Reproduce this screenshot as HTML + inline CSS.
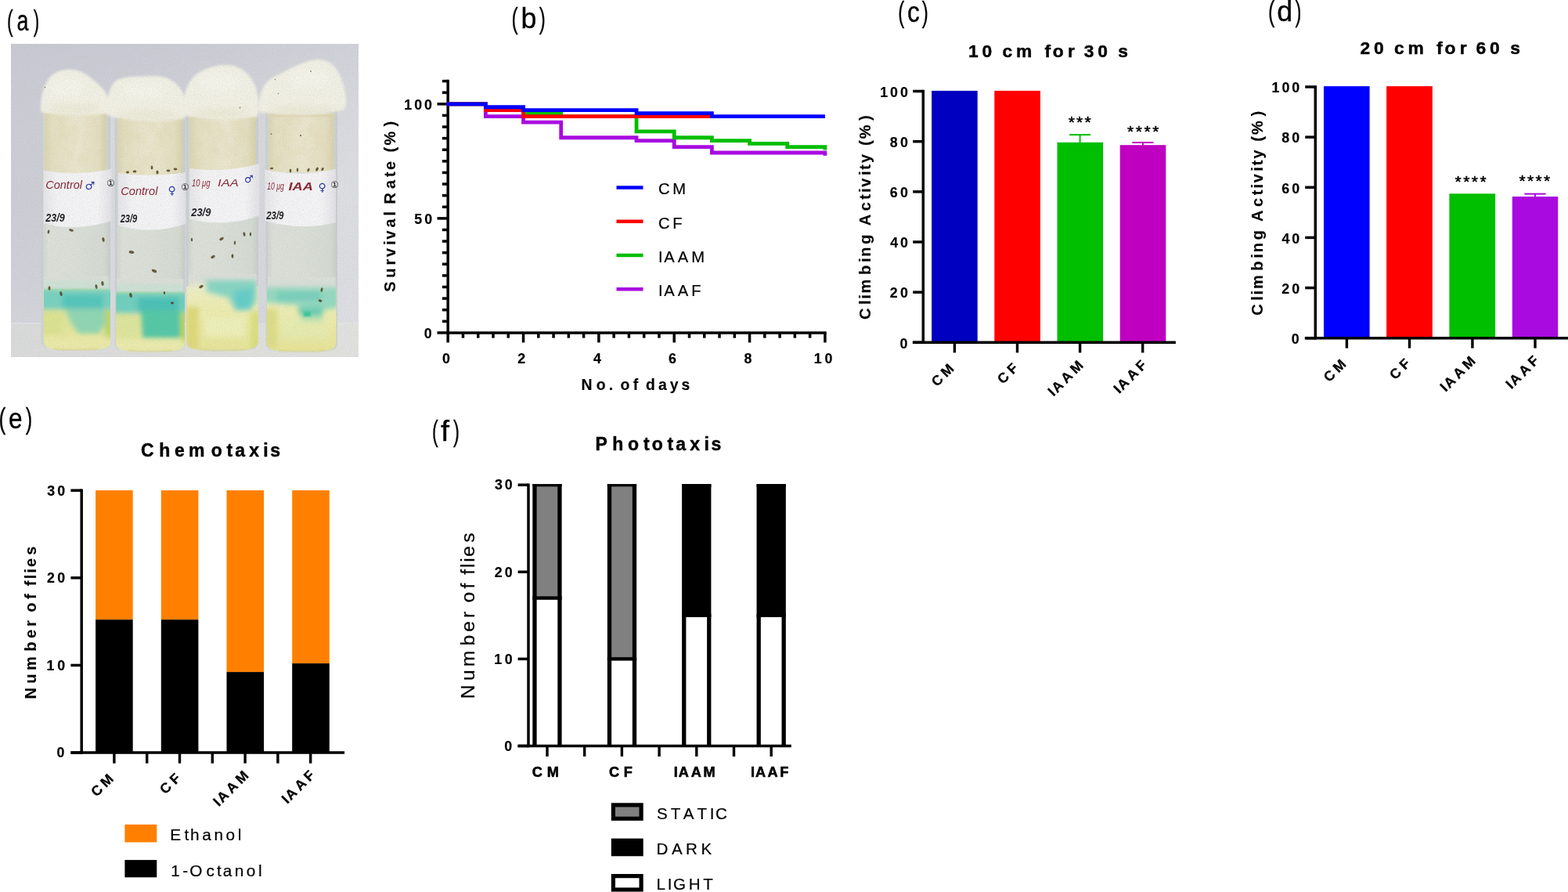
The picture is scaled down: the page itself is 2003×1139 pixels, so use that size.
<!DOCTYPE html>
<html lang="en"><head><meta charset="utf-8"><title>Figure</title>
<style>
html,body{margin:0;padding:0;background:#fff;overflow:hidden}
svg{display:block}
text{font-family:"Liberation Sans",sans-serif;font-kerning:none;white-space:pre}
</style></head><body>
<svg width="2003" height="1139" viewBox="0 0 2003 1139">
<rect width="2003" height="1139" fill="#fff"/>
<defs>
<clipPath id="pc"><rect x="14" y="56" width="444" height="400"/></clipPath>
<linearGradient id="bg" x1="0" y1="0" x2="1" y2="0.25"><stop offset="0" stop-color="#CBCCD5"/><stop offset="0.45" stop-color="#D0D1D9"/><stop offset="1" stop-color="#DEDFE4"/></linearGradient>
<linearGradient id="bgv" x1="0" y1="0" x2="0" y2="1"><stop offset="0" stop-color="#C4C5CF" stop-opacity="0.45"/><stop offset="0.5" stop-color="#D4D5DC" stop-opacity="0"/><stop offset="1" stop-color="#E2E3E6" stop-opacity="0.5"/></linearGradient>
<linearGradient id="tb" x1="0" y1="0" x2="1" y2="0"><stop offset="0" stop-color="#DADBDB"/><stop offset="1" stop-color="#E2E2E0"/></linearGradient>
<linearGradient id="plug" x1="0" y1="0" x2="1" y2="0"><stop offset="0" stop-color="#DAD5B2"/><stop offset="0.12" stop-color="#E5E0C2"/><stop offset="0.55" stop-color="#EBE7CE"/><stop offset="0.88" stop-color="#E4DFC0"/><stop offset="1" stop-color="#D6D0AC"/></linearGradient>
<linearGradient id="glass" x1="0" y1="0" x2="1" y2="0"><stop offset="0" stop-color="#CDD3CD"/><stop offset="0.1" stop-color="#DBE0D9"/><stop offset="0.5" stop-color="#DADFD8"/><stop offset="0.9" stop-color="#D5DBD3"/><stop offset="1" stop-color="#C9D0C8"/></linearGradient>
<linearGradient id="lab" x1="0" y1="0" x2="1" y2="0"><stop offset="0" stop-color="#E6E6EA"/><stop offset="0.2" stop-color="#F4F4F6"/><stop offset="0.8" stop-color="#F5F5F7"/><stop offset="1" stop-color="#E2E2E7"/></linearGradient>
<linearGradient id="yel" x1="0" y1="0" x2="0" y2="1"><stop offset="0" stop-color="#CFE3A4"/><stop offset="0.4" stop-color="#DDE594"/><stop offset="0.8" stop-color="#E9E89E"/><stop offset="1" stop-color="#E4E190"/></linearGradient>
<linearGradient id="yel2" x1="0" y1="0" x2="0" y2="1"><stop offset="0" stop-color="#F0EFC2"/><stop offset="0.5" stop-color="#ECEBA6"/><stop offset="1" stop-color="#E6E394"/></linearGradient>
<filter id="b2" x="-20%" y="-20%" width="140%" height="140%"><feGaussianBlur stdDeviation="1.8"/></filter>
<filter id="b3" x="-30%" y="-30%" width="160%" height="160%"><feGaussianBlur stdDeviation="3"/></filter>
<filter id="b5" x="-30%" y="-30%" width="160%" height="160%"><feGaussianBlur stdDeviation="5"/></filter>
<filter id="b1" x="-20%" y="-20%" width="140%" height="140%"><feGaussianBlur stdDeviation="0.9"/></filter>
<filter id="bh" x="-20%" y="-20%" width="140%" height="140%"><feGaussianBlur stdDeviation="0.45"/></filter>
<filter id="mot" x="0" y="0" width="100%" height="100%"><feTurbulence type="fractalNoise" baseFrequency="0.07 0.05" numOctaves="3" seed="7"/><feColorMatrix type="matrix" values="0 0 0 0 0.74  0 0 0 0 0.68  0 0 0 0 0.42  1.9 0 0 0 -0.78"/></filter>
<filter id="grain" x="0" y="0" width="100%" height="100%"><feTurbulence type="fractalNoise" baseFrequency="0.8" numOctaves="2" seed="11"/><feColorMatrix type="matrix" values="0 0 0 0 0.45  0 0 0 0 0.45  0 0 0 0 0.42  0 1.6 0 0 -0.62"/></filter>
</defs>
<g clip-path="url(#pc)">
<rect x="14" y="56" width="444" height="400" fill="url(#bg)"/>
<rect x="14" y="56" width="444" height="400" fill="url(#bgv)"/>
<rect x="14" y="413" width="444" height="43" fill="url(#tb)"/>
<rect x="14" y="412" width="444" height="1.6" fill="#E8E8EA" opacity="0.7"/>
<path d="M52.5 140.5 V435.0 Q52.5 447.0 68.5 447.0 H124.8 Q140.8 447.0 140.8 435.0 V140.5 Z" fill="url(#glass)"/>
<clipPath id="tc0"><path d="M56.0 352.5 V435.0 Q56.0 446.0 74.0 446.0 H123.5 Q141.5 446.0 141.5 435.0 V352.5 Z"/></clipPath>
<rect x="57.0" y="141.5" width="78.5" height="80.5" fill="url(#plug)"/>
<rect x="59.0" y="143.5" width="74.5" height="3" fill="#CFC493" opacity="0.5" filter="url(#b1)"/>
<rect x="57.0" y="141.5" width="78.5" height="80.5" filter="url(#mot)" opacity="0.55"/>
<path d="M146.8 147.0 V437.0 Q146.8 449.0 162.8 449.0 H220.3 Q236.3 449.0 236.3 437.0 V147.0 Z" fill="url(#glass)"/>
<clipPath id="tc1"><path d="M148.2 356.0 V437.0 Q148.2 448.0 166.2 448.0 H218.0 Q236.0 448.0 236.0 437.0 V356.0 Z"/></clipPath>
<rect x="150.0" y="148.0" width="83.5" height="77.0" fill="url(#plug)"/>
<rect x="152.0" y="150.0" width="79.5" height="3" fill="#CFC493" opacity="0.5" filter="url(#b1)"/>
<rect x="150.0" y="148.0" width="83.5" height="77.0" filter="url(#mot)" opacity="0.55"/>
<path d="M238.2 146.0 V435.5 Q238.2 447.5 254.2 447.5 H314.0 Q330.0 447.5 330.0 435.5 V146.0 Z" fill="url(#glass)"/>
<clipPath id="tc2"><path d="M238.5 350.0 V435.5 Q238.5 446.5 256.5 446.5 H311.5 Q329.5 446.5 329.5 435.5 V350.0 Z"/></clipPath>
<rect x="242.0" y="147.0" width="85.0" height="70.0" fill="url(#plug)"/>
<rect x="244.0" y="149.0" width="81.0" height="3" fill="#CFC493" opacity="0.5" filter="url(#b1)"/>
<rect x="242.0" y="147.0" width="85.0" height="70.0" filter="url(#mot)" opacity="0.55"/>
<path d="M339.5 143.0 V437.0 Q339.5 449.0 355.5 449.0 H415.0 Q431.0 449.0 431.0 437.0 V143.0 Z" fill="url(#glass)"/>
<clipPath id="tc3"><path d="M341.0 354.0 V437.0 Q341.0 448.0 359.0 448.0 H411.5 Q429.5 448.0 429.5 437.0 V354.0 Z"/></clipPath>
<rect x="343.0" y="144.0" width="83.5" height="76.0" fill="url(#plug)"/>
<rect x="345.0" y="146.0" width="79.5" height="3" fill="#CFC493" opacity="0.5" filter="url(#b1)"/>
<rect x="343.0" y="144.0" width="83.5" height="76.0" filter="url(#mot)" opacity="0.55"/>
<g clip-path="url(#tc0)">
<rect x="50" y="340" width="96" height="30" fill="#DADFD8"/>
<rect x="50" y="368" width="96" height="84" fill="url(#yel)"/>
<g filter="url(#b3)"><rect x="48" y="369" width="100" height="26" fill="#74D1C0"/><path d="M82 392 H134 L136 410 L126 426 H100 L90 410 Z" fill="#8CD6B2"/><rect x="80" y="376" width="52" height="18" fill="#50C5BA"/><rect x="134" y="396" width="10" height="40" fill="#B9D66A"/><rect x="50" y="398" width="30" height="30" fill="#DCE38E"/></g>
<rect x="48" y="430" width="100" height="24" fill="#ECEAA8" filter="url(#b3)" opacity="0.85"/>
<rect x="48" y="358" width="100" height="10" fill="#CFE2D5" filter="url(#b2)"/>
</g>
<g clip-path="url(#tc1)">
<rect x="144" y="344" width="96" height="30" fill="#DADFD8"/>
<rect x="144" y="372" width="96" height="84" fill="url(#yel)"/>
<g filter="url(#b3)"><rect x="142" y="373" width="100" height="27" fill="#6CCFBE"/><path d="M180 396 H231 V432 H182 Z" fill="#4FC7A4"/><rect x="176" y="380" width="52" height="16" fill="#45C0B6"/><rect x="231" y="398" width="10" height="44" fill="#BFD84C"/><rect x="146" y="402" width="30" height="30" fill="#DDE69A"/></g>
<rect x="142" y="434" width="100" height="22" fill="#EDECB0" filter="url(#b3)" opacity="0.85"/>
<rect x="142" y="362" width="100" height="10" fill="#CDE1D5" filter="url(#b2)"/>
</g>
<g clip-path="url(#tc2)">
<rect x="236" y="340" width="98" height="30" fill="#DADFD8"/>
<rect x="236" y="366" width="98" height="90" fill="url(#yel2)"/>
<g filter="url(#b3)"><path d="M262 358 H328 V384 L320 396 H300 L292 380 L262 372 Z" fill="#84D5C2"/><path d="M298 372 L323 368 L320 394 L302 396 Z" fill="#5ECDC8"/><rect x="236" y="392" width="18" height="54" fill="#DFD978"/><rect x="320" y="398" width="14" height="50" fill="#DCDF7C"/><rect x="262" y="404" width="50" height="26" fill="#EEF0B8"/><rect x="238" y="362" width="26" height="8" fill="#E9EDCB"/></g>
</g>
<g clip-path="url(#tc3)">
<rect x="336" y="342" width="98" height="30" fill="#DADFD8"/>
<rect x="336" y="370" width="98" height="86" fill="url(#yel2)"/>
<g filter="url(#b3)"><path d="M336 367 H434 V392 L410 397 L380 390 L336 386 Z" fill="#92D9C0"/><path d="M380 392 H412 V411 H386 Z" fill="#6ACEB2"/><rect x="336" y="394" width="18" height="50" fill="#DDDE84"/><rect x="354" y="372" width="56" height="12" fill="#74CFBA"/><rect x="360" y="404" width="60" height="28" fill="#E6EDB2" opacity="0.7"/></g>
<rect x="388" y="398" width="9" height="6" fill="#35C79A" filter="url(#b1)"/>
</g>
<path d="M68.5 445.0 Q96.7 449.5 124.8 445.0" stroke="#DAD678" stroke-width="2" fill="none" opacity="0.7" filter="url(#b1)"/>
<rect x="52.5" y="140.5" width="2.4" height="228.0" fill="#C9CDD3" opacity="0.8"/>
<rect x="138.4" y="140.5" width="2.4" height="228.0" fill="#C9CDD3" opacity="0.8"/>
<rect x="52.5" y="139.7" width="88.3" height="1.6" fill="#B9C0C0" opacity="0.8"/>
<path d="M162.8 447.0 Q191.6 451.5 220.3 447.0" stroke="#DAD678" stroke-width="2" fill="none" opacity="0.7" filter="url(#b1)"/>
<rect x="146.8" y="147.0" width="2.4" height="225.0" fill="#C9CDD3" opacity="0.8"/>
<rect x="233.9" y="147.0" width="2.4" height="225.0" fill="#C9CDD3" opacity="0.8"/>
<rect x="146.8" y="146.2" width="89.5" height="1.6" fill="#B9C0C0" opacity="0.8"/>
<path d="M254.2 445.5 Q284.1 450.0 314.0 445.5" stroke="#DAD678" stroke-width="2" fill="none" opacity="0.7" filter="url(#b1)"/>
<rect x="238.2" y="146.0" width="2.4" height="220.0" fill="#C9CDD3" opacity="0.8"/>
<rect x="327.6" y="146.0" width="2.4" height="220.0" fill="#C9CDD3" opacity="0.8"/>
<rect x="238.2" y="145.2" width="91.8" height="1.6" fill="#B9C0C0" opacity="0.8"/>
<path d="M355.5 447.0 Q385.2 451.5 415.0 447.0" stroke="#DAD678" stroke-width="2" fill="none" opacity="0.7" filter="url(#b1)"/>
<rect x="339.5" y="143.0" width="2.4" height="227.0" fill="#C9CDD3" opacity="0.8"/>
<rect x="428.6" y="143.0" width="2.4" height="227.0" fill="#C9CDD3" opacity="0.8"/>
<rect x="339.5" y="142.2" width="91.5" height="1.6" fill="#B9C0C0" opacity="0.8"/>
<rect x="141" y="141" width="5.8" height="300" fill="#D9DCE0" opacity="0.9"/>
<rect x="330.3" y="143" width="9" height="270" fill="#D7D8DE"/>
<g filter="url(#b2)">
<path d="M52 143 C51 124 56 106 66 96 C76 88 92 87 102 91 C114 96 122 104 130 112 C136 118 140 126 141 144 C120 149 72 149 52 143 Z" fill="#F2F1E5"/>
<path d="M137 147 C136 130 138 112 148 103 C162 96 182 98 196 97 C212 96 226 104 232 116 C238 128 238 140 236 151 C210 157 160 156 137 147 Z" fill="#F2F1E5"/>
<path d="M235 147 C232 126 238 104 252 94 C266 85 284 81 298 84 C312 87 324 100 328 116 C331 130 331 140 329 149 C300 155 260 154 235 147 Z" fill="#F2F1E5"/>
<path d="M331 143 C330 124 334 106 350 98 C368 90 386 78 404 76 C418 75 428 82 434 96 C440 110 444 128 441 138 C432 147 370 149 331 143 Z" fill="#F2F1E5"/>
</g>
<g filter="url(#b5)" opacity="0.6">
<ellipse cx="86" cy="112" rx="22" ry="12" fill="#F8F8F0"/>
<ellipse cx="185" cy="116" rx="30" ry="10" fill="#F8F8F0"/>
<ellipse cx="280" cy="106" rx="26" ry="12" fill="#F8F8F0"/>
<ellipse cx="394" cy="100" rx="28" ry="12" fill="#F8F8F0"/>
<ellipse cx="96" cy="139" rx="34" ry="4.5" fill="#E4E0C2"/>
<ellipse cx="188" cy="147" rx="40" ry="4.5" fill="#E4E0C2"/>
<ellipse cx="282" cy="145" rx="38" ry="4.5" fill="#E4E0C2"/>
<ellipse cx="386" cy="141" rx="44" ry="4.5" fill="#E4E0C2"/>
</g>
<path d="M55.6 217.7 Q99.1 225.6 142.6 215.5 V282.0 Q99.1 295.9 55.6 285.4 Z" fill="url(#lab)"/>
<path d="M150.9 221.0 Q194.1 227.1 237.2 220.0 V286.0 Q194.1 300.4 150.9 288.0 Z" fill="url(#lab)"/>
<path d="M242.1 215.0 Q286.7 221.2 331.3 208.9 V275.4 Q286.7 291.0 242.1 279.8 Z" fill="url(#lab)"/>
<path d="M338.5 216.6 Q383.7 227.1 428.9 215.5 V284.3 Q383.7 295.2 338.5 282.0 Z" fill="url(#lab)"/>
<g fill="#4A3A16" filter="url(#bh)" opacity="0.85">
<ellipse cx="62" cy="296" rx="1.3" ry="2.6" transform="rotate(10 62 296)"/>
<ellipse cx="91" cy="294" rx="3" ry="1.6" transform="rotate(15 91 294)"/>
<ellipse cx="132" cy="306" rx="1.6" ry="3" transform="rotate(-10 132 306)"/>
<ellipse cx="63" cy="368" rx="1.5" ry="2.8" transform="rotate(0 63 368)"/>
<ellipse cx="78" cy="375" rx="1.6" ry="3" transform="rotate(-15 78 375)"/>
<ellipse cx="123" cy="366" rx="1.5" ry="3" transform="rotate(-10 123 366)"/>
<ellipse cx="131" cy="362" rx="1.6" ry="3" transform="rotate(-5 131 362)"/>
<ellipse cx="168" cy="322" rx="3.4" ry="1.8" transform="rotate(10 168 322)"/>
<ellipse cx="197" cy="346" rx="3.4" ry="1.8" transform="rotate(25 197 346)"/>
<ellipse cx="167" cy="377" rx="1.8" ry="3" transform="rotate(-10 167 377)"/>
<ellipse cx="210" cy="374" rx="1.2" ry="2" transform="rotate(0 210 374)"/>
<ellipse cx="220" cy="387" rx="2" ry="1.4" transform="rotate(0 220 387)"/>
<ellipse cx="245" cy="306" rx="1.2" ry="2.2" transform="rotate(0 245 306)"/>
<ellipse cx="283" cy="305" rx="3" ry="1.6" transform="rotate(-30 283 305)"/>
<ellipse cx="300" cy="310" rx="1.2" ry="2.6" transform="rotate(0 300 310)"/>
<ellipse cx="312" cy="299" rx="1.5" ry="2.8" transform="rotate(-10 312 299)"/>
<ellipse cx="320" cy="299" rx="1.2" ry="2.6" transform="rotate(0 320 299)"/>
<ellipse cx="272" cy="328" rx="3" ry="1.6" transform="rotate(-30 272 328)"/>
<ellipse cx="297" cy="327" rx="1.4" ry="2.8" transform="rotate(0 297 327)"/>
<ellipse cx="257" cy="366" rx="3" ry="1.6" transform="rotate(-30 257 366)"/>
<ellipse cx="411" cy="370" rx="1.4" ry="2.8" transform="rotate(10 411 370)"/>
<ellipse cx="409" cy="384" rx="2.4" ry="1.6" transform="rotate(20 409 384)"/>
<ellipse cx="163" cy="220" rx="2" ry="1.4" transform="rotate(0 163 220)"/>
<ellipse cx="172" cy="219" rx="2.4" ry="1.4" transform="rotate(0 172 219)"/>
<ellipse cx="194" cy="214" rx="1.4" ry="2.4" transform="rotate(0 194 214)"/>
<ellipse cx="201" cy="220" rx="1.6" ry="2.6" transform="rotate(0 201 220)"/>
<ellipse cx="215" cy="218" rx="2.4" ry="1.4" transform="rotate(0 215 218)"/>
<ellipse cx="224" cy="216" rx="2.4" ry="1.4" transform="rotate(0 224 216)"/>
<ellipse cx="347" cy="215" rx="2" ry="1.2" transform="rotate(0 347 215)"/>
<ellipse cx="371" cy="218" rx="1.4" ry="2.2" transform="rotate(0 371 218)"/>
<ellipse cx="380" cy="217" rx="1.2" ry="2.4" transform="rotate(0 380 217)"/>
<ellipse cx="394" cy="217" rx="1.4" ry="2.4" transform="rotate(30 394 217)"/>
<ellipse cx="405" cy="216" rx="1.6" ry="2.6" transform="rotate(30 405 216)"/>
<ellipse cx="412" cy="216" rx="1.4" ry="2.2" transform="rotate(30 412 216)"/>
</g>
<g fill="#6B6448" opacity="0.8"><circle cx="57.5" cy="111.5" r="0.8"/><circle cx="306.5" cy="137.5" r="0.9"/><circle cx="351.5" cy="101.5" r="0.8"/><circle cx="397" cy="91" r="0.9"/><circle cx="355.5" cy="119.5" r="0.8"/><circle cx="384" cy="173" r="1.2"/><circle cx="346.5" cy="171" r="1"/></g>
<text x="58.3" y="241.0" font-size="15.0" fill="#84202E" font-style="italic" font-weight="400" style="font-family:'Liberation Sans',sans-serif" textLength="46.7" lengthAdjust="spacingAndGlyphs">Control</text>
<text x="108.5" y="242.0" font-size="14.0" fill="#1C2C9C" font-style="normal" font-weight="400" style="font-family:'DejaVu Sans',sans-serif">♂</text>
<text x="136.0" y="238.0" font-size="12.0" fill="#15151A" font-style="normal" font-weight="400" style="font-family:'DejaVu Sans',sans-serif">①</text>
<text x="154.2" y="249.0" font-size="15.0" fill="#84202E" font-style="italic" font-weight="400" style="font-family:'Liberation Sans',sans-serif" textLength="47.2" lengthAdjust="spacingAndGlyphs">Control</text>
<text x="214.5" y="248.0" font-size="14.0" fill="#1C2C9C" font-style="normal" font-weight="400" style="font-family:'DejaVu Sans',sans-serif">♀</text>
<text x="231.0" y="243.0" font-size="12.0" fill="#15151A" font-style="normal" font-weight="400" style="font-family:'DejaVu Sans',sans-serif">①</text>
<text x="244.9" y="238.0" font-size="13.0" fill="#84202E" font-style="italic" font-weight="400" style="font-family:'Liberation Sans',sans-serif" textLength="23.5" lengthAdjust="spacingAndGlyphs">10 μg</text>
<text x="278.1" y="237.5" font-size="12.0" fill="#84202E" font-style="italic" font-weight="400" style="font-family:'Liberation Sans',sans-serif" textLength="26.6" lengthAdjust="spacingAndGlyphs">IAA</text>
<text x="312.0" y="233.0" font-size="13.0" fill="#1C2C9C" font-style="normal" font-weight="400" style="font-family:'DejaVu Sans',sans-serif">♂</text>
<text x="341.3" y="242.0" font-size="13.0" fill="#84202E" font-style="italic" font-weight="400" style="font-family:'Liberation Sans',sans-serif" textLength="21.5" lengthAdjust="spacingAndGlyphs">10 μg</text>
<text x="368.5" y="243.0" font-size="14.0" fill="#84202E" font-style="italic" font-weight="700" style="font-family:'Liberation Sans',sans-serif" textLength="31.5" lengthAdjust="spacingAndGlyphs">IAA</text>
<text x="406.5" y="244.0" font-size="14.0" fill="#1C2C9C" font-style="normal" font-weight="400" style="font-family:'DejaVu Sans',sans-serif">♀</text>
<text x="422.0" y="240.0" font-size="12.0" fill="#15151A" font-style="normal" font-weight="400" style="font-family:'DejaVu Sans',sans-serif">①</text>
<text x="58.3" y="282.5" font-size="14.0" fill="#15151A" font-style="italic" font-weight="700" style="font-family:'Liberation Sans',sans-serif" textLength="24.4" lengthAdjust="spacingAndGlyphs">23/9</text>
<text x="153.7" y="284.0" font-size="14.0" fill="#15151A" font-style="italic" font-weight="700" style="font-family:'Liberation Sans',sans-serif" textLength="21.6" lengthAdjust="spacingAndGlyphs">23/9</text>
<text x="244.3" y="276.0" font-size="14.0" fill="#15151A" font-style="italic" font-weight="700" style="font-family:'Liberation Sans',sans-serif" textLength="25.0" lengthAdjust="spacingAndGlyphs">23/9</text>
<text x="340.2" y="279.5" font-size="14.0" fill="#15151A" font-style="italic" font-weight="700" style="font-family:'Liberation Sans',sans-serif" textLength="22.2" lengthAdjust="spacingAndGlyphs">23/9</text>
<rect x="14" y="56" width="444" height="400" filter="url(#grain)" opacity="0.35"/>
</g>
<text y="38.70" font-size="37.00" font-weight="400" fill="#000" stroke="#000" stroke-width="0.35"><tspan x="8.97" textLength="7.66" lengthAdjust="spacingAndGlyphs">(</tspan><tspan x="21.46" textLength="14.94" lengthAdjust="spacingAndGlyphs">a</tspan><tspan x="42.67" textLength="7.41" lengthAdjust="spacingAndGlyphs">)</tspan></text>
<text y="36.40" font-size="37.00" font-weight="400" fill="#000" stroke="#000" stroke-width="0.35"><tspan x="653.38" textLength="8.16" lengthAdjust="spacingAndGlyphs">(</tspan><tspan x="665.49" textLength="19.91" lengthAdjust="spacingAndGlyphs">b</tspan><tspan x="688.86" textLength="8.04" lengthAdjust="spacingAndGlyphs">)</tspan></text>
<text y="28.00" font-size="37.00" font-weight="400" fill="#000" stroke="#000" stroke-width="0.35"><tspan x="1147.30" textLength="8.04" lengthAdjust="spacingAndGlyphs">(</tspan><tspan x="1158.96" textLength="15.77" lengthAdjust="spacingAndGlyphs">c</tspan><tspan x="1177.66" textLength="8.04" lengthAdjust="spacingAndGlyphs">)</tspan></text>
<text y="27.30" font-size="37.00" font-weight="400" fill="#000" stroke="#000" stroke-width="0.35"><tspan x="1620.03" textLength="8.42" lengthAdjust="spacingAndGlyphs">(</tspan><tspan x="1631.30" textLength="19.91" lengthAdjust="spacingAndGlyphs">d</tspan><tspan x="1654.56" textLength="7.91" lengthAdjust="spacingAndGlyphs">)</tspan></text>
<text y="546.80" font-size="37.00" font-weight="400" fill="#000" stroke="#000" stroke-width="0.35"><tspan x="-1.44" textLength="8.79" lengthAdjust="spacingAndGlyphs">(</tspan><tspan x="10.96" textLength="17.54" lengthAdjust="spacingAndGlyphs">e</tspan><tspan x="32.75" textLength="8.42" lengthAdjust="spacingAndGlyphs">)</tspan></text>
<text y="562.90" font-size="37.00" font-weight="400" fill="#000" stroke="#000" stroke-width="0.35"><tspan x="552.07" textLength="7.66" lengthAdjust="spacingAndGlyphs">(</tspan><tspan x="562.94" textLength="11.00" lengthAdjust="spacingAndGlyphs">f</tspan><tspan x="578.96" textLength="7.91" lengthAdjust="spacingAndGlyphs">)</tspan></text>
<line x1="572.20" y1="101.84" x2="572.20" y2="426.65" stroke="#000" stroke-width="3.50"/>
<line x1="570.45" y1="424.90" x2="1055.65" y2="424.90" stroke="#000" stroke-width="3.50"/>
<line x1="558.50" y1="424.90" x2="572.20" y2="424.90" stroke="#000" stroke-width="3.50"/>
<line x1="564.90" y1="410.29" x2="572.20" y2="410.29" stroke="#000" stroke-width="3.50"/>
<line x1="564.90" y1="395.69" x2="572.20" y2="395.69" stroke="#000" stroke-width="3.50"/>
<line x1="564.90" y1="381.08" x2="572.20" y2="381.08" stroke="#000" stroke-width="3.50"/>
<line x1="564.90" y1="366.48" x2="572.20" y2="366.48" stroke="#000" stroke-width="3.50"/>
<line x1="564.90" y1="351.88" x2="572.20" y2="351.88" stroke="#000" stroke-width="3.50"/>
<line x1="564.90" y1="337.27" x2="572.20" y2="337.27" stroke="#000" stroke-width="3.50"/>
<line x1="564.90" y1="322.66" x2="572.20" y2="322.66" stroke="#000" stroke-width="3.50"/>
<line x1="564.90" y1="308.06" x2="572.20" y2="308.06" stroke="#000" stroke-width="3.50"/>
<line x1="564.90" y1="293.45" x2="572.20" y2="293.45" stroke="#000" stroke-width="3.50"/>
<line x1="558.50" y1="278.85" x2="572.20" y2="278.85" stroke="#000" stroke-width="3.50"/>
<line x1="564.90" y1="264.25" x2="572.20" y2="264.25" stroke="#000" stroke-width="3.50"/>
<line x1="564.90" y1="249.64" x2="572.20" y2="249.64" stroke="#000" stroke-width="3.50"/>
<line x1="564.90" y1="235.03" x2="572.20" y2="235.03" stroke="#000" stroke-width="3.50"/>
<line x1="564.90" y1="220.43" x2="572.20" y2="220.43" stroke="#000" stroke-width="3.50"/>
<line x1="564.90" y1="205.82" x2="572.20" y2="205.82" stroke="#000" stroke-width="3.50"/>
<line x1="564.90" y1="191.22" x2="572.20" y2="191.22" stroke="#000" stroke-width="3.50"/>
<line x1="564.90" y1="176.61" x2="572.20" y2="176.61" stroke="#000" stroke-width="3.50"/>
<line x1="564.90" y1="162.01" x2="572.20" y2="162.01" stroke="#000" stroke-width="3.50"/>
<line x1="564.90" y1="147.40" x2="572.20" y2="147.40" stroke="#000" stroke-width="3.50"/>
<line x1="558.50" y1="132.80" x2="572.20" y2="132.80" stroke="#000" stroke-width="3.50"/>
<line x1="564.90" y1="118.19" x2="572.20" y2="118.19" stroke="#000" stroke-width="3.50"/>
<line x1="564.90" y1="103.59" x2="572.20" y2="103.59" stroke="#000" stroke-width="3.50"/>
<line x1="572.20" y1="424.90" x2="572.20" y2="437.40" stroke="#000" stroke-width="3.50"/>
<line x1="591.47" y1="424.90" x2="591.47" y2="431.60" stroke="#000" stroke-width="3.50"/>
<line x1="610.74" y1="424.90" x2="610.74" y2="431.60" stroke="#000" stroke-width="3.50"/>
<line x1="630.00" y1="424.90" x2="630.00" y2="431.60" stroke="#000" stroke-width="3.50"/>
<line x1="649.27" y1="424.90" x2="649.27" y2="431.60" stroke="#000" stroke-width="3.50"/>
<line x1="668.54" y1="424.90" x2="668.54" y2="437.40" stroke="#000" stroke-width="3.50"/>
<line x1="687.81" y1="424.90" x2="687.81" y2="431.60" stroke="#000" stroke-width="3.50"/>
<line x1="707.08" y1="424.90" x2="707.08" y2="431.60" stroke="#000" stroke-width="3.50"/>
<line x1="726.34" y1="424.90" x2="726.34" y2="431.60" stroke="#000" stroke-width="3.50"/>
<line x1="745.61" y1="424.90" x2="745.61" y2="431.60" stroke="#000" stroke-width="3.50"/>
<line x1="764.88" y1="424.90" x2="764.88" y2="437.40" stroke="#000" stroke-width="3.50"/>
<line x1="784.15" y1="424.90" x2="784.15" y2="431.60" stroke="#000" stroke-width="3.50"/>
<line x1="803.42" y1="424.90" x2="803.42" y2="431.60" stroke="#000" stroke-width="3.50"/>
<line x1="822.68" y1="424.90" x2="822.68" y2="431.60" stroke="#000" stroke-width="3.50"/>
<line x1="841.95" y1="424.90" x2="841.95" y2="431.60" stroke="#000" stroke-width="3.50"/>
<line x1="861.22" y1="424.90" x2="861.22" y2="437.40" stroke="#000" stroke-width="3.50"/>
<line x1="880.49" y1="424.90" x2="880.49" y2="431.60" stroke="#000" stroke-width="3.50"/>
<line x1="899.76" y1="424.90" x2="899.76" y2="431.60" stroke="#000" stroke-width="3.50"/>
<line x1="919.02" y1="424.90" x2="919.02" y2="431.60" stroke="#000" stroke-width="3.50"/>
<line x1="938.29" y1="424.90" x2="938.29" y2="431.60" stroke="#000" stroke-width="3.50"/>
<line x1="957.56" y1="424.90" x2="957.56" y2="437.40" stroke="#000" stroke-width="3.50"/>
<line x1="976.83" y1="424.90" x2="976.83" y2="431.60" stroke="#000" stroke-width="3.50"/>
<line x1="996.10" y1="424.90" x2="996.10" y2="431.60" stroke="#000" stroke-width="3.50"/>
<line x1="1015.36" y1="424.90" x2="1015.36" y2="431.60" stroke="#000" stroke-width="3.50"/>
<line x1="1034.63" y1="424.90" x2="1034.63" y2="431.60" stroke="#000" stroke-width="3.50"/>
<line x1="1053.90" y1="424.90" x2="1053.90" y2="437.40" stroke="#000" stroke-width="3.50"/>
<path d="M570.40 132.80 H620.37 V148.57 H668.54 V156.17 H716.71 V175.74 H813.05 V179.54 H861.22 V187.71 H909.39 V195.02 H1053.90 H1053.90 V198.81" fill="none" stroke="#A80AE0" stroke-width="4.80" stroke-linejoin="miter"/>
<path d="M570.40 132.80 H620.37 V140.69 H668.54 V144.78 H716.71 V148.57 H813.05 V167.85 H861.22 V175.74 H909.39 V179.54 H957.56 V183.33 H1005.73 V187.71 H1053.90 H1053.90 V191.51" fill="none" stroke="#00BE00" stroke-width="4.80" stroke-linejoin="miter"/>
<path d="M570.40 132.80 H620.37 V140.69 H668.54 V148.57 H909.39" fill="none" stroke="#FF0000" stroke-width="4.80" stroke-linejoin="miter"/>
<path d="M570.40 132.80 H620.37 V136.74 H668.54 V140.69 H813.05 V144.63 H909.39 V148.57 H1053.90" fill="none" stroke="#0000FF" stroke-width="4.80" stroke-linejoin="miter"/>
<text x="516.28 529.15 542.03" y="140.10" font-size="17.80" font-weight="700" fill="#000" stroke="#000" stroke-width="0.20" stroke-linejoin="round">100</text>
<text x="529.15 542.23" y="286.15" font-size="17.80" font-weight="700" fill="#000" stroke="#000" stroke-width="0.20" stroke-linejoin="round">50</text>
<text x="541.70" y="432.20" font-size="17.80" font-weight="700" fill="#000" stroke="#000" stroke-width="0.20" stroke-linejoin="round">0</text>
<text x="564.95" y="464.30" font-size="17.80" font-weight="700" fill="#000" stroke="#000" stroke-width="0.20" stroke-linejoin="round">0</text>
<text x="661.37" y="464.30" font-size="17.80" font-weight="700" fill="#000" stroke="#000" stroke-width="0.20" stroke-linejoin="round">2</text>
<text x="758.06" y="464.30" font-size="17.80" font-weight="700" fill="#000" stroke="#000" stroke-width="0.20" stroke-linejoin="round">4</text>
<text x="854.02" y="464.30" font-size="17.80" font-weight="700" fill="#000" stroke="#000" stroke-width="0.20" stroke-linejoin="round">6</text>
<text x="950.45" y="464.30" font-size="17.80" font-weight="700" fill="#000" stroke="#000" stroke-width="0.20" stroke-linejoin="round">8</text>
<text x="1039.73 1053.38" y="464.30" font-size="17.80" font-weight="700" fill="#000" stroke="#000" stroke-width="0.20" stroke-linejoin="round">10</text>
<text x="742.58 761.69 777.87 785.22 792.57 808.75 817.56 824.92 841.09 855.81 870.53" y="498.00" font-size="19.40" font-weight="700" fill="#000" stroke="#000" stroke-width="0.15" stroke-linejoin="round">No. of days</text>
<text transform="translate(504.70 372.30) rotate(-90)" x="-0.53 17.46 33.93 44.42 59.42 66.91 81.91 96.91 104.40 111.89 131.36 146.36 155.34 170.34 177.83 186.81 210.79" y="0" font-size="20.00" font-weight="700" fill="#000" stroke="#000" stroke-width="0.10" stroke-linejoin="round">Survival Rate (%)</text>
<line x1="787.50" y1="239.50" x2="821.50" y2="239.50" stroke="#0000FF" stroke-width="4.50"/>
<line x1="787.50" y1="282.70" x2="821.50" y2="282.70" stroke="#FF0000" stroke-width="4.50"/>
<line x1="787.50" y1="326.00" x2="821.50" y2="326.00" stroke="#00BE00" stroke-width="4.50"/>
<line x1="787.50" y1="369.30" x2="821.50" y2="369.30" stroke="#A80AE0" stroke-width="4.50"/>
<text x="840.97 859.33" y="248.30" font-size="20.20" font-weight="400" fill="#000" stroke="#000" stroke-width="0.20" stroke-linejoin="round">CM</text>
<text x="840.97 859.17" y="291.50" font-size="20.20" font-weight="400" fill="#000" stroke="#000" stroke-width="0.20" stroke-linejoin="round">CF</text>
<text x="840.94 848.24 865.79 883.33" y="334.80" font-size="20.20" font-weight="400" fill="#000" stroke="#000" stroke-width="0.20" stroke-linejoin="round">IAAM</text>
<text x="840.94 848.25 865.81 883.37" y="378.10" font-size="20.20" font-weight="400" fill="#000" stroke="#000" stroke-width="0.20" stroke-linejoin="round">IAAF</text>
<rect x="1190.10" y="115.90" width="58.60" height="321.40" fill="#0000C0"/>
<rect x="1270.30" y="115.90" width="58.60" height="321.40" fill="#FF0000"/>
<rect x="1350.50" y="181.80" width="58.60" height="255.50" fill="#00BE00"/>
<rect x="1430.70" y="185.20" width="58.60" height="252.10" fill="#C000C0"/>
<line x1="1379.60" y1="172.10" x2="1379.60" y2="182.80" stroke="#00BE00" stroke-width="1.90"/>
<line x1="1366.20" y1="172.10" x2="1393.00" y2="172.10" stroke="#00BE00" stroke-width="2.00"/>
<line x1="1459.90" y1="182.00" x2="1459.90" y2="186.20" stroke="#C000C0" stroke-width="1.90"/>
<line x1="1446.40" y1="182.00" x2="1473.40" y2="182.00" stroke="#C000C0" stroke-width="2.00"/>
<line x1="1179.30" y1="114.75" x2="1179.30" y2="439.05" stroke="#000" stroke-width="3.50"/>
<line x1="1165.80" y1="437.30" x2="1501.90" y2="437.30" stroke="#000" stroke-width="3.50"/>
<line x1="1166.20" y1="437.30" x2="1179.30" y2="437.30" stroke="#000" stroke-width="3.50"/>
<text x="1149.40" y="444.60" font-size="17.80" font-weight="700" fill="#000" stroke="#000" stroke-width="0.20" stroke-linejoin="round">0</text>
<line x1="1166.20" y1="373.14" x2="1179.30" y2="373.14" stroke="#000" stroke-width="3.50"/>
<text x="1136.78 1149.93" y="380.44" font-size="17.80" font-weight="700" fill="#000" stroke="#000" stroke-width="0.20" stroke-linejoin="round">20</text>
<line x1="1166.20" y1="308.98" x2="1179.30" y2="308.98" stroke="#000" stroke-width="3.50"/>
<text x="1137.13 1149.93" y="316.28" font-size="17.80" font-weight="700" fill="#000" stroke="#000" stroke-width="0.20" stroke-linejoin="round">40</text>
<line x1="1166.20" y1="244.82" x2="1179.30" y2="244.82" stroke="#000" stroke-width="3.50"/>
<text x="1136.75 1149.93" y="252.12" font-size="17.80" font-weight="700" fill="#000" stroke="#000" stroke-width="0.20" stroke-linejoin="round">60</text>
<line x1="1166.20" y1="180.66" x2="1179.30" y2="180.66" stroke="#000" stroke-width="3.50"/>
<text x="1136.84 1149.93" y="187.96" font-size="17.80" font-weight="700" fill="#000" stroke="#000" stroke-width="0.20" stroke-linejoin="round">80</text>
<line x1="1166.20" y1="116.50" x2="1179.30" y2="116.50" stroke="#000" stroke-width="3.50"/>
<text x="1124.18 1137.05 1149.93" y="123.80" font-size="17.80" font-weight="700" fill="#000" stroke="#000" stroke-width="0.20" stroke-linejoin="round">100</text>
<line x1="1219.40" y1="437.30" x2="1219.40" y2="450.40" stroke="#000" stroke-width="3.40"/>
<line x1="1299.50" y1="437.30" x2="1299.50" y2="450.40" stroke="#000" stroke-width="3.40"/>
<line x1="1379.60" y1="437.30" x2="1379.60" y2="450.40" stroke="#000" stroke-width="3.40"/>
<line x1="1459.70" y1="437.30" x2="1459.70" y2="450.40" stroke="#000" stroke-width="3.40"/>
<text x="1237.09 1254.48 1271.86 1280.55 1297.93 1325.73 1334.41 1344.83 1363.92 1376.09 1384.77 1402.16 1419.54 1428.23" y="73.20" font-size="22.80" font-weight="700" fill="#000" stroke="#000" stroke-width="0.45" stroke-linejoin="round">10 cm for 30 s</text>
<text transform="translate(1111.50 407.30) rotate(-90)" x="-0.77 18.22 25.52 32.82 56.20 72.26 79.56 95.62 111.68 118.98 137.97 152.59 161.35 168.65 183.27 190.58 199.33 213.95 221.26 230.01 253.39" y="0" font-size="20.00" font-weight="700" fill="#000" stroke="#000" stroke-width="0.10" stroke-linejoin="round">Climbing Activity (%)</text>
<text x="1364.81 1375.11 1385.41" y="163.00" font-size="21.00" font-weight="400" fill="#000" stroke="#000" stroke-width="0.50" stroke-linejoin="round">***</text>
<text x="1439.91 1450.71 1461.51 1472.31" y="174.70" font-size="21.00" font-weight="400" fill="#000" stroke="#000" stroke-width="0.50" stroke-linejoin="round">****</text>
<text transform="translate(1218.60 472.80) rotate(-45)" x="-30.73 -13.64" y="0" font-size="17.80" font-weight="700" fill="#000" stroke="#000" stroke-width="0.30">CM</text>
<text transform="translate(1301.10 471.50) rotate(-45)" x="-28.09 -10.22" y="0" font-size="17.80" font-weight="700" fill="#000" stroke="#000" stroke-width="0.30">CF</text>
<text transform="translate(1383.90 468.70) rotate(-45)" x="-53.79 -47.32 -30.48 -13.64" y="0" font-size="17.80" font-weight="700" fill="#000" stroke="#000" stroke-width="0.30">IAAM</text>
<text transform="translate(1465.30 467.70) rotate(-45)" x="-50.38 -43.90 -27.06 -10.22" y="0" font-size="17.80" font-weight="700" fill="#000" stroke="#000" stroke-width="0.30">IAAF</text>
<rect x="1691.00" y="110.10" width="58.60" height="321.60" fill="#0000FF"/>
<rect x="1771.10" y="110.10" width="58.70" height="321.60" fill="#FF0000"/>
<rect x="1851.40" y="247.30" width="58.70" height="184.40" fill="#00BE00"/>
<rect x="1931.80" y="251.00" width="58.40" height="180.70" fill="#A80AE0"/>
<line x1="1961.00" y1="247.60" x2="1961.00" y2="252.00" stroke="#A80AE0" stroke-width="1.90"/>
<line x1="1947.40" y1="247.60" x2="1974.60" y2="247.60" stroke="#A80AE0" stroke-width="2.00"/>
<line x1="1680.30" y1="109.20" x2="1680.30" y2="433.45" stroke="#000" stroke-width="3.50"/>
<line x1="1666.80" y1="431.70" x2="2003.00" y2="431.70" stroke="#000" stroke-width="3.50"/>
<line x1="1667.20" y1="431.70" x2="1680.30" y2="431.70" stroke="#000" stroke-width="3.50"/>
<text x="1649.80" y="439.00" font-size="17.80" font-weight="700" fill="#000" stroke="#000" stroke-width="0.20" stroke-linejoin="round">0</text>
<line x1="1667.20" y1="367.55" x2="1680.30" y2="367.55" stroke="#000" stroke-width="3.50"/>
<text x="1637.18 1650.33" y="374.85" font-size="17.80" font-weight="700" fill="#000" stroke="#000" stroke-width="0.20" stroke-linejoin="round">20</text>
<line x1="1667.20" y1="303.40" x2="1680.30" y2="303.40" stroke="#000" stroke-width="3.50"/>
<text x="1637.53 1650.33" y="310.70" font-size="17.80" font-weight="700" fill="#000" stroke="#000" stroke-width="0.20" stroke-linejoin="round">40</text>
<line x1="1667.20" y1="239.25" x2="1680.30" y2="239.25" stroke="#000" stroke-width="3.50"/>
<text x="1637.15 1650.33" y="246.55" font-size="17.80" font-weight="700" fill="#000" stroke="#000" stroke-width="0.20" stroke-linejoin="round">60</text>
<line x1="1667.20" y1="175.10" x2="1680.30" y2="175.10" stroke="#000" stroke-width="3.50"/>
<text x="1637.24 1650.33" y="182.40" font-size="17.80" font-weight="700" fill="#000" stroke="#000" stroke-width="0.20" stroke-linejoin="round">80</text>
<line x1="1667.20" y1="110.95" x2="1680.30" y2="110.95" stroke="#000" stroke-width="3.50"/>
<text x="1624.58 1637.45 1650.33" y="118.25" font-size="17.80" font-weight="700" fill="#000" stroke="#000" stroke-width="0.20" stroke-linejoin="round">100</text>
<line x1="1720.40" y1="431.70" x2="1720.40" y2="444.60" stroke="#000" stroke-width="3.40"/>
<line x1="1800.50" y1="431.70" x2="1800.50" y2="444.60" stroke="#000" stroke-width="3.40"/>
<line x1="1880.90" y1="431.70" x2="1880.90" y2="444.60" stroke="#000" stroke-width="3.40"/>
<line x1="1961.00" y1="431.70" x2="1961.00" y2="444.60" stroke="#000" stroke-width="3.40"/>
<text x="1737.53 1754.96 1772.39 1781.10 1798.52 1826.39 1835.09 1845.53 1864.67 1876.86 1885.57 1903.00 1920.42 1929.13" y="69.10" font-size="22.80" font-weight="700" fill="#000" stroke="#000" stroke-width="0.45" stroke-linejoin="round">20 cm for 60 s</text>
<text transform="translate(1613.20 401.90) rotate(-90)" x="-0.77 18.22 25.52 32.82 56.20 72.26 79.56 95.62 111.68 118.98 137.97 152.59 161.35 168.65 183.27 190.58 199.33 213.95 221.26 230.01 253.39" y="0" font-size="20.00" font-weight="700" fill="#000" stroke="#000" stroke-width="0.10" stroke-linejoin="round">Climbing Activity (%)</text>
<text x="1858.51 1869.14 1879.77 1890.41" y="238.60" font-size="21.00" font-weight="400" fill="#000" stroke="#000" stroke-width="0.50" stroke-linejoin="round">****</text>
<text x="1940.41 1950.91 1961.41 1971.91" y="238.20" font-size="21.00" font-weight="400" fill="#000" stroke="#000" stroke-width="0.50" stroke-linejoin="round">****</text>
<text transform="translate(1719.60 467.10) rotate(-45)" x="-30.73 -13.64" y="0" font-size="17.80" font-weight="700" fill="#000" stroke="#000" stroke-width="0.30">CM</text>
<text transform="translate(1802.10 465.80) rotate(-45)" x="-28.09 -10.22" y="0" font-size="17.80" font-weight="700" fill="#000" stroke="#000" stroke-width="0.30">CF</text>
<text transform="translate(1884.90 463.00) rotate(-45)" x="-53.79 -47.32 -30.48 -13.64" y="0" font-size="17.80" font-weight="700" fill="#000" stroke="#000" stroke-width="0.30">IAAM</text>
<text transform="translate(1966.30 462.00) rotate(-45)" x="-50.38 -43.90 -27.06 -10.22" y="0" font-size="17.80" font-weight="700" fill="#000" stroke="#000" stroke-width="0.30">IAAF</text>
<rect x="122.10" y="626.10" width="47.60" height="165.10" fill="#FF8000"/>
<rect x="122.10" y="791.20" width="47.60" height="169.90" fill="#000"/>
<rect x="205.80" y="626.10" width="47.60" height="165.10" fill="#FF8000"/>
<rect x="205.80" y="791.20" width="47.60" height="169.90" fill="#000"/>
<rect x="289.50" y="626.10" width="47.60" height="232.00" fill="#FF8000"/>
<rect x="289.50" y="858.10" width="47.60" height="103.00" fill="#000"/>
<rect x="373.20" y="626.10" width="47.60" height="221.00" fill="#FF8000"/>
<rect x="373.20" y="847.10" width="47.60" height="114.00" fill="#000"/>
<line x1="104.20" y1="624.45" x2="104.20" y2="962.85" stroke="#000" stroke-width="3.50"/>
<line x1="90.40" y1="961.10" x2="440.10" y2="961.10" stroke="#000" stroke-width="3.50"/>
<line x1="90.40" y1="961.10" x2="104.20" y2="961.10" stroke="#000" stroke-width="3.50"/>
<text x="72.60" y="967.40" font-size="17.80" font-weight="700" fill="#000" stroke="#000" stroke-width="0.20" stroke-linejoin="round">0</text>
<line x1="90.40" y1="849.47" x2="104.20" y2="849.47" stroke="#000" stroke-width="3.50"/>
<text x="59.48 73.13" y="855.77" font-size="17.80" font-weight="700" fill="#000" stroke="#000" stroke-width="0.20" stroke-linejoin="round">10</text>
<line x1="90.40" y1="737.84" x2="104.20" y2="737.84" stroke="#000" stroke-width="3.50"/>
<text x="59.98 73.13" y="744.14" font-size="17.80" font-weight="700" fill="#000" stroke="#000" stroke-width="0.20" stroke-linejoin="round">20</text>
<line x1="90.40" y1="626.21" x2="104.20" y2="626.21" stroke="#000" stroke-width="3.50"/>
<text x="60.19 73.13" y="632.51" font-size="17.80" font-weight="700" fill="#000" stroke="#000" stroke-width="0.20" stroke-linejoin="round">30</text>
<line x1="145.90" y1="961.10" x2="145.90" y2="974.70" stroke="#000" stroke-width="3.40"/>
<line x1="187.70" y1="961.10" x2="187.70" y2="974.70" stroke="#000" stroke-width="3.40"/>
<line x1="229.50" y1="961.10" x2="229.50" y2="974.70" stroke="#000" stroke-width="3.40"/>
<line x1="271.30" y1="961.10" x2="271.30" y2="974.70" stroke="#000" stroke-width="3.40"/>
<line x1="313.10" y1="961.10" x2="313.10" y2="974.70" stroke="#000" stroke-width="3.40"/>
<line x1="354.90" y1="961.10" x2="354.90" y2="974.70" stroke="#000" stroke-width="3.40"/>
<line x1="396.70" y1="961.10" x2="396.70" y2="974.70" stroke="#000" stroke-width="3.40"/>
<text transform="translate(145.10 996.50) rotate(-45)" x="-30.73 -13.64" y="0" font-size="17.80" font-weight="700" fill="#000" stroke="#000" stroke-width="0.30">CM</text>
<text transform="translate(231.20 995.20) rotate(-45)" x="-28.09 -10.22" y="0" font-size="17.80" font-weight="700" fill="#000" stroke="#000" stroke-width="0.30">CF</text>
<text transform="translate(317.60 992.40) rotate(-45)" x="-53.79 -47.32 -30.48 -13.64" y="0" font-size="17.80" font-weight="700" fill="#000" stroke="#000" stroke-width="0.30">IAAM</text>
<text transform="translate(402.60 991.40) rotate(-45)" x="-50.38 -43.90 -27.06 -10.22" y="0" font-size="17.80" font-weight="700" fill="#000" stroke="#000" stroke-width="0.30">IAAF</text>
<text x="179.98 203.34 223.09 241.08 269.84 289.60 300.37 318.35 336.34 345.33" y="582.60" font-size="23.00" font-weight="700" fill="#000" stroke="#000" stroke-width="0.45" stroke-linejoin="round">Chemotaxis</text>
<text transform="translate(46.40 891.20) rotate(-90)" x="-1.29 18.44 35.12 59.41 76.10 91.29 101.92 109.51 126.20 135.29 142.88 151.98 159.57 167.16 182.35" y="0" font-size="20.00" font-weight="700" fill="#000" stroke="#000" stroke-width="0.10" stroke-linejoin="round">Number of flies</text>
<rect x="159.40" y="1052.80" width="40.90" height="22.70" fill="#FF8000"/>
<rect x="159.40" y="1098.10" width="40.90" height="22.20" fill="#000"/>
<text x="217.19 235.41 243.00 258.19 273.39 288.58 303.77" y="1073.10" font-size="20.80" font-weight="400" fill="#000" stroke="#000" stroke-width="0.20" stroke-linejoin="round">Ethanol</text>
<text x="218.22 233.33 242.37 263.51 277.09 284.64 299.75 314.86 329.97" y="1119.00" font-size="20.80" font-weight="400" fill="#000" stroke="#000" stroke-width="0.20" stroke-linejoin="round">1-Octanol</text>
<rect x="682.95" y="763.63" width="32.00" height="188.87" fill="#fff"/>
<rect x="682.95" y="618.10" width="32.00" height="145.53" fill="#808080"/>
<line x1="682.95" y1="618.10" x2="682.95" y2="952.50" stroke="#000" stroke-width="5.30"/>
<line x1="714.95" y1="618.10" x2="714.95" y2="952.50" stroke="#000" stroke-width="5.30"/>
<rect x="680.30" y="618.10" width="37.30" height="3.20" fill="#000"/>
<rect x="680.30" y="761.43" width="37.30" height="4.40" fill="#000"/>
<rect x="778.50" y="841.40" width="32.00" height="111.10" fill="#fff"/>
<rect x="778.50" y="618.10" width="32.00" height="223.30" fill="#808080"/>
<line x1="778.50" y1="618.10" x2="778.50" y2="952.50" stroke="#000" stroke-width="5.30"/>
<line x1="810.50" y1="618.10" x2="810.50" y2="952.50" stroke="#000" stroke-width="5.30"/>
<rect x="775.85" y="618.10" width="37.30" height="3.20" fill="#000"/>
<rect x="775.85" y="839.20" width="37.30" height="4.40" fill="#000"/>
<rect x="873.75" y="785.85" width="32.00" height="166.65" fill="#fff"/>
<rect x="873.75" y="618.10" width="32.00" height="167.75" fill="#000"/>
<line x1="873.75" y1="618.10" x2="873.75" y2="952.50" stroke="#000" stroke-width="5.30"/>
<line x1="905.75" y1="618.10" x2="905.75" y2="952.50" stroke="#000" stroke-width="5.30"/>
<rect x="871.10" y="618.10" width="37.30" height="4.00" fill="#000"/>
<rect x="871.10" y="783.65" width="37.30" height="4.40" fill="#000"/>
<rect x="969.20" y="785.85" width="32.00" height="166.65" fill="#fff"/>
<rect x="969.20" y="618.10" width="32.00" height="167.75" fill="#000"/>
<line x1="969.20" y1="618.10" x2="969.20" y2="952.50" stroke="#000" stroke-width="5.30"/>
<line x1="1001.20" y1="618.10" x2="1001.20" y2="952.50" stroke="#000" stroke-width="5.30"/>
<rect x="966.55" y="618.10" width="37.30" height="4.00" fill="#000"/>
<rect x="966.55" y="783.65" width="37.30" height="4.40" fill="#000"/>
<line x1="675.00" y1="617.45" x2="675.00" y2="954.25" stroke="#000" stroke-width="3.50"/>
<line x1="661.60" y1="952.50" x2="1010.80" y2="952.50" stroke="#000" stroke-width="3.50"/>
<line x1="661.60" y1="952.50" x2="675.00" y2="952.50" stroke="#000" stroke-width="3.50"/>
<text x="644.30" y="958.70" font-size="17.80" font-weight="700" fill="#000" stroke="#000" stroke-width="0.20" stroke-linejoin="round">0</text>
<line x1="661.60" y1="841.40" x2="675.00" y2="841.40" stroke="#000" stroke-width="3.50"/>
<text x="631.18 644.83" y="847.60" font-size="17.80" font-weight="700" fill="#000" stroke="#000" stroke-width="0.20" stroke-linejoin="round">10</text>
<line x1="661.60" y1="730.30" x2="675.00" y2="730.30" stroke="#000" stroke-width="3.50"/>
<text x="631.68 644.83" y="736.50" font-size="17.80" font-weight="700" fill="#000" stroke="#000" stroke-width="0.20" stroke-linejoin="round">20</text>
<line x1="661.60" y1="619.20" x2="675.00" y2="619.20" stroke="#000" stroke-width="3.50"/>
<text x="631.89 644.83" y="625.40" font-size="17.80" font-weight="700" fill="#000" stroke="#000" stroke-width="0.20" stroke-linejoin="round">30</text>
<line x1="699.00" y1="952.50" x2="699.00" y2="966.00" stroke="#000" stroke-width="3.40"/>
<line x1="746.70" y1="952.50" x2="746.70" y2="966.00" stroke="#000" stroke-width="3.40"/>
<line x1="794.40" y1="952.50" x2="794.40" y2="966.00" stroke="#000" stroke-width="3.40"/>
<line x1="842.10" y1="952.50" x2="842.10" y2="966.00" stroke="#000" stroke-width="3.40"/>
<line x1="889.80" y1="952.50" x2="889.80" y2="966.00" stroke="#000" stroke-width="3.40"/>
<line x1="937.50" y1="952.50" x2="937.50" y2="966.00" stroke="#000" stroke-width="3.40"/>
<line x1="985.20" y1="952.50" x2="985.20" y2="966.00" stroke="#000" stroke-width="3.40"/>
<text x="679.85 698.76" y="992.00" font-size="18.20" font-weight="700" fill="#000" stroke="#000" stroke-width="0.60" stroke-linejoin="round">CM</text>
<text x="777.95 796.65" y="992.00" font-size="18.20" font-weight="700" fill="#000" stroke="#000" stroke-width="0.60" stroke-linejoin="round">CF</text>
<text x="860.68 866.79 882.67 898.56" y="992.00" font-size="18.20" font-weight="700" fill="#000" stroke="#000" stroke-width="0.60" stroke-linejoin="round">IAAM</text>
<text x="958.98 964.99 980.62 996.25" y="992.00" font-size="18.20" font-weight="700" fill="#000" stroke="#000" stroke-width="0.60" stroke-linejoin="round">IAAF</text>
<text x="760.59 782.23 802.05 821.88 832.68 852.51 863.31 881.36 899.41 908.43" y="575.40" font-size="23.00" font-weight="700" fill="#000" stroke="#000" stroke-width="0.45" stroke-linejoin="round">Phototaxis</text>
<text transform="translate(606.30 890.30) rotate(-90)" x="-1.89 21.24 39.05 65.73 83.54 101.35 112.02 120.91 138.73 147.62 156.52 165.42 172.54 179.65 197.46" y="0" font-size="24.60" font-weight="400" fill="#000" stroke="#000" stroke-width="0.25" stroke-linejoin="round">Number of flies</text>
<rect x="783.40" y="1027.90" width="35.70" height="17.40" fill="#808080" stroke="#000" stroke-width="5.2"/>
<text x="838.96 856.63 872.81 890.47 906.65 914.01" y="1046.10" font-size="20.60" font-weight="400" fill="#000" stroke="#000" stroke-width="0.20" stroke-linejoin="round">STATIC</text>
<rect x="783.40" y="1073.25" width="35.70" height="17.40" fill="#000" stroke="#000" stroke-width="5.2"/>
<text x="838.61 858.10 876.10 895.59" y="1090.90" font-size="20.60" font-weight="400" fill="#000" stroke="#000" stroke-width="0.20" stroke-linejoin="round">DARK</text>
<rect x="783.40" y="1118.60" width="35.70" height="17.40" fill="#fff" stroke="#000" stroke-width="5.2"/>
<text x="838.61 852.81 859.90 879.75 898.19" y="1135.70" font-size="20.60" font-weight="400" fill="#000" stroke="#000" stroke-width="0.20" stroke-linejoin="round">LIGHT</text>
</svg>
</body></html>
